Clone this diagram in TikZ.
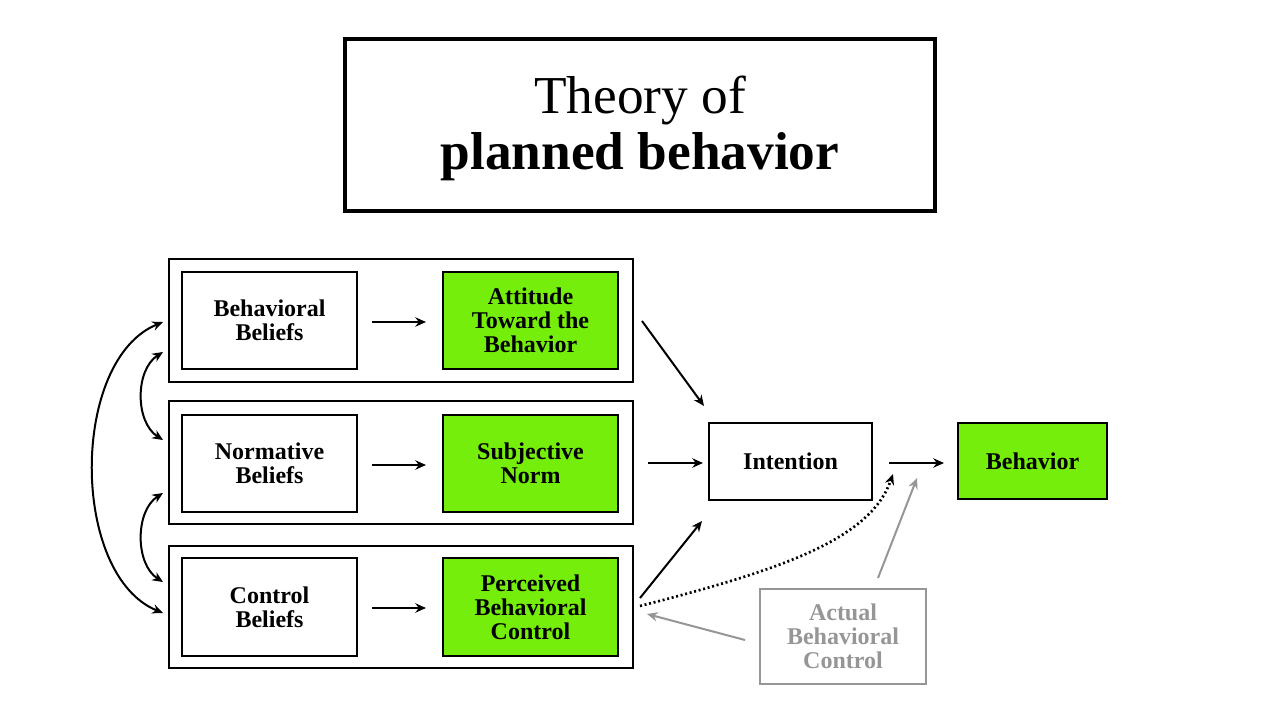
\documentclass[tikz,border=0pt]{standalone}
\usepackage{fontspec}
\setmainfont{Liberation Serif}
\usetikzlibrary{arrows.meta}
\definecolor{grn}{RGB}{116,238,10}
\definecolor{gry}{RGB}{150,150,150}
\begin{document}
\begin{tikzpicture}[x=0.75pt,y=-0.75pt,
 box/.style={draw,line width=1.5pt,minimum width=131pt,minimum height=73pt,align=center,font=\fontsize{18}{18}\selectfont\bfseries,inner sep=0pt},
 gbox/.style={box,fill=grn},
 grp/.style={draw,line width=1.5pt,minimum width=348pt,minimum height=92pt,inner sep=0pt},
 ar/.style={-{Stealth[length=8pt,width=7pt]},line width=1.5pt},
 gar/.style={ar,draw=gry}]
\useasboundingbox (0,0) rectangle (1280,720);
\node[draw,line width=3pt,minimum width=442pt,minimum height=129pt] (title) at (640,125) {};
\node[align=center,font=\fontsize{40}{42}\selectfont] (tt) at (640,128) {Theory of\\\textbf{planned behavior}};
\foreach \n/\y in {1/320.5,2/462.5,3/607}{\node[grp] (g\n) at (401,\y) {};}
\node[box] (bb) at (269.5,320.5) {Behavioral\\Beliefs};
\node[box] (nb) at (269.5,463.5) {Normative\\Beliefs};
\node[box] (cb) at (269.5,607) {Control\\Beliefs};
\node[gbox] (at) at (530.5,320.5) {Attitude\\Toward the\\Behavior};
\node[gbox] (sn) at (530.5,463.5) {Subjective\\Norm};
\node[gbox] (pc) at (530.5,607) {Perceived\\Behavioral\\Control};
\node[box,minimum width=122pt,minimum height=58pt] (in) at (790.5,461.5) {Intention};
\node[gbox,minimum width=112pt,minimum height=57pt] (be) at (1032.5,461) {Behavior};
\node[box,draw=gry,text=gry,minimum width=124pt,minimum height=71pt] (ab) at (843,636.5) {Actual\\Behavioral\\Control};
\coordinate (a1s) at (372,322); \coordinate (a1e) at (426,322);
\coordinate (a2s) at (372,465); \coordinate (a2e) at (426,465);
\coordinate (a3s) at (372,608); \coordinate (a3e) at (426,608);
\draw[ar] (a1s) -- (a1e); \draw[ar] (a2s) -- (a2e); \draw[ar] (a3s) -- (a3e);
\coordinate (p1) at (642,321); \coordinate (q1) at (704,406);
\coordinate (p2) at (648,463); \coordinate (q2) at (703,463);
\coordinate (p3) at (640,598); \coordinate (q3) at (702,521);
\coordinate (p4) at (889,463); \coordinate (q4) at (944,463);
\draw[ar] (p1) -- (q1); \draw[ar] (p2) -- (q2); \draw[ar] (p3) -- (q3); \draw[ar] (p4) -- (q4);
\coordinate (d1) at (640,606); \coordinate (d2) at (893,474);
\draw[ar,dotted,line width=2pt] (d1) .. controls (780,570) and (870,540) .. (d2);
\coordinate (ga) at (745,640); \coordinate (gb) at (647,614);
\coordinate (gc) at (878,578); \coordinate (gd) at (917,478);
\draw[gar] (ga) -- (gb); \draw[gar] (gc) -- (gd);
\coordinate (l1) at (163,322); \coordinate (l2) at (163,613);
\coordinate (l3) at (163,352); \coordinate (l4) at (163,440);
\coordinate (l5) at (163,493); \coordinate (l6) at (163,582);
\draw[ar,{Stealth[length=8pt,width=7pt]}-{Stealth[length=8pt,width=7pt]}] (l1) .. controls (70,360) and (70,575) .. (l2);
\draw[ar,{Stealth[length=8pt,width=7pt]}-{Stealth[length=8pt,width=7pt]}] (l3) .. controls (135,370) and (135,422) .. (l4);
\draw[ar,{Stealth[length=8pt,width=7pt]}-{Stealth[length=8pt,width=7pt]}] (l5) .. controls (135,511) and (135,564) .. (l6);
\end{tikzpicture}
\end{document}
